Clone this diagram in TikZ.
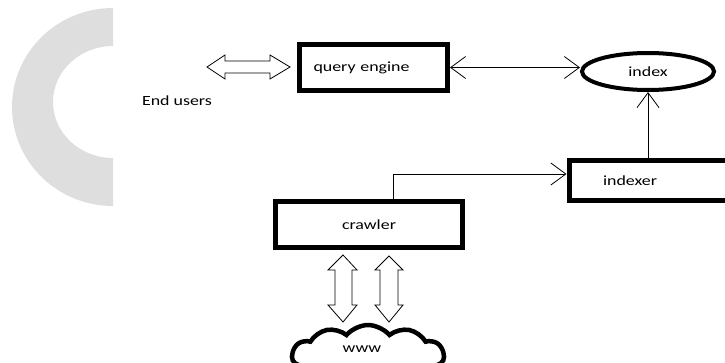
\documentclass[tikz,border=0pt]{standalone}
\usepackage{fontspec}
\setmainfont[FakeStretch=1.28]{Carlito}
\usetikzlibrary{arrows.meta,shapes.geometric,shapes.symbols}
\definecolor{ringgray}{RGB}{222,222,222}
\tikzset{
  thickbox/.style={draw, line width=5pt, inner sep=0pt},
  link/.style={line width=0.8pt},
  hollow/.style={draw, line width=0.8pt, fill=white, line join=miter},
  >={Straight Barb[length=15pt,width=22pt]}
}
\begin{document}
\begin{tikzpicture}[x=1pt,y=-1pt,font=\fontsize{14pt}{16pt}\selectfont]
\useasboundingbox (0,0) rectangle (725,362);

% grey ring on the left
\begin{scope}
\clip (0,0) rectangle (113,362);
\fill[ringgray, even odd rule] (113,107) ellipse (101 and 99) (113,102) ellipse (60 and 56);
\end{scope}

\node (users) at (177,101) {End users};

\node[thickbox, minimum width=148pt, minimum height=46pt, text width=120pt, inner xsep=14pt, align=left] (query) at (373.5,67.5) {query engine};
\node[thickbox, ellipse, line width=4pt, minimum width=132pt, minimum height=37pt] (index) at (648,71.5) {index};
\node[thickbox, minimum width=200pt, minimum height=40pt, text width=132pt, inner xsep=34pt, align=left] (indexer) at (669,180.5) {indexer};
\node[thickbox, minimum width=187pt, minimum height=46pt] (crawler) at (369,224.5) {crawler};
\node[cloud, draw, line width=4.5pt, cloud puffs=11, cloud puff arc=100, aspect=3, minimum width=152pt, minimum height=62pt, inner sep=0pt] (www) at (368,356) {};
\node (wwwtext) at (362,349) {www};

\draw[link, <->] (query.east) -- (query.east -| index.west);
\draw[link, ->] (index.south |- indexer.north) -- (index.south);
\coordinate (bend) at (393,174);
\draw[link, ->] (bend |- crawler.north) -- (bend) -- (bend -| indexer.west);

% hollow double arrows
\draw[hollow] (207,67) -- (225,55) -- (225,61) -- (270,61) -- (270,55) -- (290,67)
  -- (270,79) -- (270,73) -- (225,73) -- (225,79) -- cycle;
\draw[hollow] (343,255) -- (357,270) -- (352,270) -- (352,305) -- (357,305) -- (343,322)
  -- (328,305) -- (335,305) -- (335,270) -- (328,270) -- cycle;
\draw[hollow] (389,256) -- (403,270) -- (398,270) -- (398,305) -- (403,305) -- (389,322)
  -- (375,305) -- (380,305) -- (380,270) -- (375,270) -- cycle;

\end{tikzpicture}
\end{document}
